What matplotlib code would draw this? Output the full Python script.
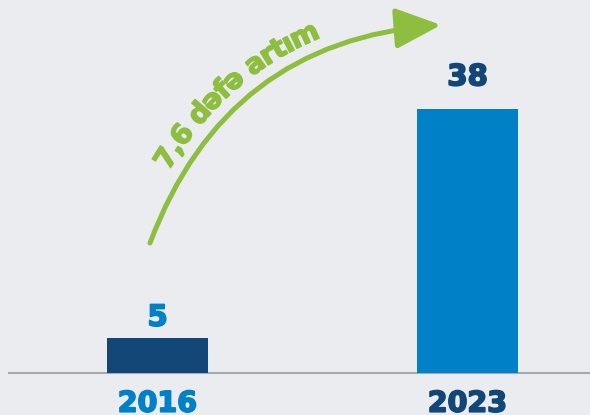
import numpy as np
import matplotlib.pyplot as plt
import matplotlib.patheffects as pe
from matplotlib.patches import FancyArrowPatch

years = ['2016', '2023']
values = [5, 38]
growth_text = '7,6 dəfə artım'

BG = '#EBECF0'
NAVY = '#114676'
BLUE = '#0080C6'
GREEN = '#8DBE3F'
bar_colors = [NAVY, BLUE]
label_colors = [BLUE, NAVY]

W, H = 590, 415
fig = plt.figure(figsize=(W / 100, H / 100), dpi=100, facecolor=BG)
ax = fig.add_axes([0, 0, 1, 1])
ax.set_facecolor(BG)

x = np.arange(len(years))
ax.bar(x, values, width=0.326, color=bar_colors, zorder=2)
ax.set_xlim(-0.508, 1.395)
ax.set_ylim(-6.04, 53.67)
ax.axis('off')
ax.axhline(0, xmin=9 / W, xmax=1, color='#A7A8AC', lw=1.5, zorder=1)


def heavy(c, w=1.3):
    # thicken DejaVu bold a little to look like the heavy original font
    return [pe.withStroke(linewidth=w, foreground=c)]


# value labels above bars, year labels under baseline
pads = [9, 17]
for i, v in enumerate(values):
    ax.annotate(str(v), (x[i], v), xytext=(0, pads[i]), textcoords='offset points',
                ha='center', va='baseline', fontsize=21, fontweight='bold',
                color=label_colors[i], path_effects=heavy(label_colors[i]))
    ax.annotate(years[i], (x[i], 0), xytext=(0, -12), textcoords='offset points',
                ha='center', va='top', fontsize=20.5, fontweight='bold',
                color=label_colors[i], path_effects=heavy(label_colors[i]))

# curved growth arrow (pixel coords, origin bottom-left)
p0 = np.array([150.0, 172.0])
p2 = np.array([441.0, 390.0])
rad = -0.32
d = p2 - p0
ctrl = (p0 + p2) / 2 + rad * np.array([d[1], -d[0]])

arrow = FancyArrowPatch(p0 / [W, H], p2 / [W, H], transform=fig.transFigure,
                        connectionstyle=f'arc3,rad={rad}',
                        arrowstyle='-|>,head_length=2.8,head_width=1.25',
                        mutation_scale=10, lw=3.6, color=GREEN,
                        shrinkA=0, shrinkB=0)
fig.add_artist(arrow)

# text following the arrow
t = np.linspace(0, 1, 3000)[:, None]
pts = (1 - t) ** 2 * p0 + 2 * t * (1 - t) * ctrl + t ** 2 * p2
tan = 2 * (1 - t) * (ctrl - p0) + 2 * t * (p2 - ctrl)
tan = tan / np.linalg.norm(tan, axis=1, keepdims=True)
normal = np.column_stack([-tan[:, 1], tan[:, 0]])
offset = 14
path = pts + offset * normal
seg = np.linalg.norm(np.diff(path, axis=0), axis=1)
arc = np.concatenate([[0], np.cumsum(seg)])

fs = 20
track = 0.92
renderer = fig.canvas.get_renderer()


def text_width(s):
    tt = fig.text(0, 0, s, fontsize=fs, fontweight='bold')
    w = tt.get_window_extent(renderer).width
    tt.remove()
    return w


start = np.array([156.0, 252.0])
s0 = arc[np.argmin(np.linalg.norm(path - start, axis=1))]
for k, ch in enumerate(growth_text):
    if ch == ' ':
        continue
    right = text_width(growth_text[:k + 1])
    centre = s0 + track * (right - text_width(ch) / 2)
    j = min(np.searchsorted(arc, centre), len(arc) - 1)
    ang = np.degrees(np.arctan2(tan[j, 1], tan[j, 0]))
    fig.text(path[j, 0] / W, path[j, 1] / H, ch, fontsize=fs, fontweight='bold',
             color=GREEN, ha='center', va='baseline', rotation=ang,
             rotation_mode='anchor', path_effects=heavy(GREEN, 1.1))

fig.savefig('out.png', dpi=100, facecolor=BG)
